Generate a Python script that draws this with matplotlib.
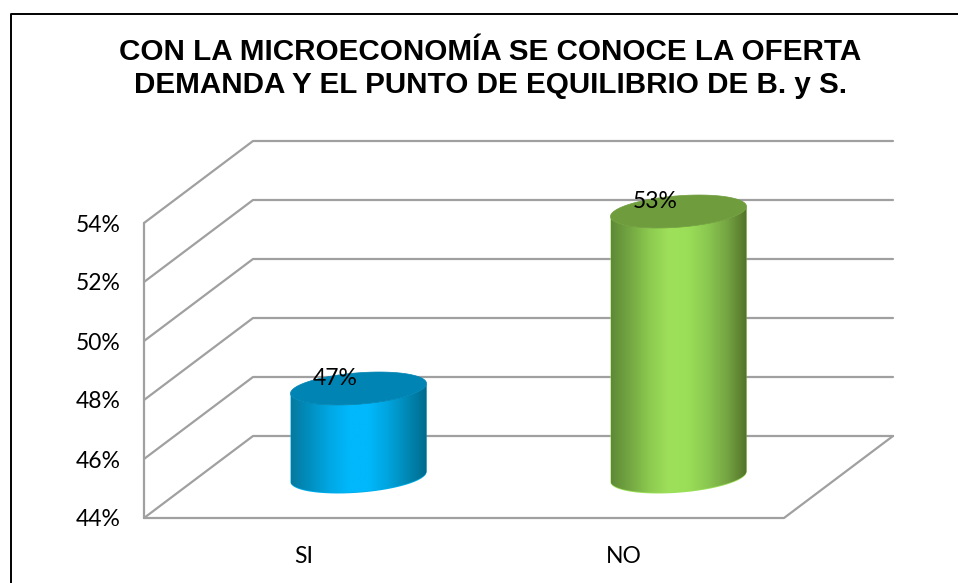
"""
Cylinder chart: microeconomia SI / NO
"""

import numpy as np
import matplotlib.pyplot as plt
from matplotlib.colors import LinearSegmentedColormap
from matplotlib.lines import Line2D
from matplotlib.patches import Polygon

W, H = 958, 583

categories = ["SI", "NO"]
values = [47, 53]
labels = ["47%", "53%"]
y_ticks = [44, 46, 48, 50, 52, 54]
y_tick_labels = ["44%", "46%", "48%", "50%", "52%", "54%"]

title = "CON LA MICROECONOMÍA SE CONOCE LA OFERTA\nDEMANDA Y EL PUNTO DE EQUILIBRIO DE B. y S."

blue_stops = ["#07799f", "#0090c2", "#00a8e4", "#00b8fb", "#00b8fb", "#00a4df", "#0088b4", "#006a8c"]
green_stops = ["#5e8a36", "#75a843", "#8ccb50", "#9fe05a", "#9ade58", "#8ac750", "#75a443", "#527228"]
top_colors = ["#0084b4", "#6f9c3c"]
edge_colors = ["#00aeea", "#9be058"]

fig = plt.figure(figsize=(W / 100, H / 100), dpi=100)
fig.patch.set_facecolor("white")

# front plane of the chart box, the 3d part is drawn as offsets from it
ax = fig.add_axes([144 / W, 1 - 518 / H, 640 / W, 295 / H])
ax.set_xlim(-0.5, 1.5)
ax.set_ylim(44, 54)
ax.patch.set_visible(False)
for s in ax.spines.values():
    s.set_visible(False)

# depth of the box in data units (109 px across, 82 px up)
dx = 109 / 320
dy = 82 / 29.5
x0, x1 = -0.5, 1.5
grid_col = "#a0a0a0"
kw = dict(color=grid_col, lw=1.6, clip_on=False, solid_capstyle="round", zorder=1)

for t in y_ticks:
    ax.plot([x0, x0 + dx, x1 + dx], [t, t + dy, t + dy], **kw)
ax.plot([x0, x0], [44, 54], **kw)
ax.plot([x0, x1, x1 + dx], [44, 44, 44 + dy], **kw)


def draw_cylinder(cat, val, stops, top_col, edge_col):
    cx = cat + dx / 2
    base = 44 + dy / 2
    top_y = val + dy / 2
    a = 68 / 320
    b = 15.7 / 29.5
    k = 5 / 29.5
    t = np.linspace(0, 2 * np.pi, 200)
    ex = a * np.cos(t)
    ey = b * np.sin(t) + k * np.cos(t)

    # outline of the body: lower half of the top ellipse and of the base
    lower = np.sin(t) <= 0
    lo_x, lo_y = cx + ex[lower], base + ey[lower]
    order = np.argsort(lo_x)
    lo_x, lo_y = lo_x[order], lo_y[order]
    hi_x, hi_y = cx + ex[lower], top_y + ey[lower]
    order = np.argsort(hi_x)
    hi_x, hi_y = hi_x[order], hi_y[order]
    body = Polygon(np.c_[np.r_[lo_x, hi_x[::-1]], np.r_[lo_y, hi_y[::-1]]],
                   closed=True, fc=edge_col, ec="none", zorder=3, clip_on=False)
    ax.add_patch(body)

    cmap = LinearSegmentedColormap.from_list("cyl", stops)
    grad = np.linspace(0, 1, 256).reshape(1, -1)
    im = ax.imshow(grad, cmap=cmap, aspect="auto", zorder=4,
                   extent=[cx - a, cx + a, base - 1, top_y + 1], interpolation="bilinear")
    clip = Polygon(np.c_[np.r_[lo_x, hi_x[::-1]], np.r_[lo_y + 0.03, hi_y[::-1]]],
                   closed=True, transform=ax.transData)
    im.set_clip_path(clip)
    # the top of the tall cylinder sticks out over the axes box
    im.set_clip_box(fig.bbox)

    top = Polygon(np.c_[cx + ex, top_y + ey], closed=True, fc=top_col, ec=top_col, lw=0.5,
                  zorder=5, clip_on=False)
    ax.add_patch(top)
    return cx, top_y


for i, (v, lab) in enumerate(zip(values, labels)):
    stops = blue_stops if i == 0 else green_stops
    cx, top_y = draw_cylinder(i, v, stops, top_colors[i], edge_colors[i])
    ax.annotate(lab, (cx, top_y), xytext=(-16.5, 7), textcoords="offset points", ha="center", va="center",
                family="Lato", fontsize=16.5, color="black", zorder=6, annotation_clip=False)

ax.set_xlim(-0.5, 1.5)
ax.set_ylim(44, 54)
ax.set_xticks([0, 1], categories)
ax.set_yticks(y_ticks, y_tick_labels)
ax.tick_params(axis="both", length=0, labelsize=16.5)
ax.tick_params(axis="x", pad=20)
ax.tick_params(axis="y", pad=17)
for tl in ax.get_xticklabels() + ax.get_yticklabels():
    tl.set_family("Lato")

fig.text(490 / W, 1 - 68.5 / H, title, ha="center", va="center", family="Liberation Sans",
         fontweight="bold", fontsize=21.3, linespacing=1.25, color="black")

# outer frame, open on the right
fig.add_artist(Line2D([10.5 / W, 10.5 / W, 1], [0, 1 - 13.5 / H, 1 - 13.5 / H], color="black", lw=1.4))

fig.savefig("out.png", dpi=100)
